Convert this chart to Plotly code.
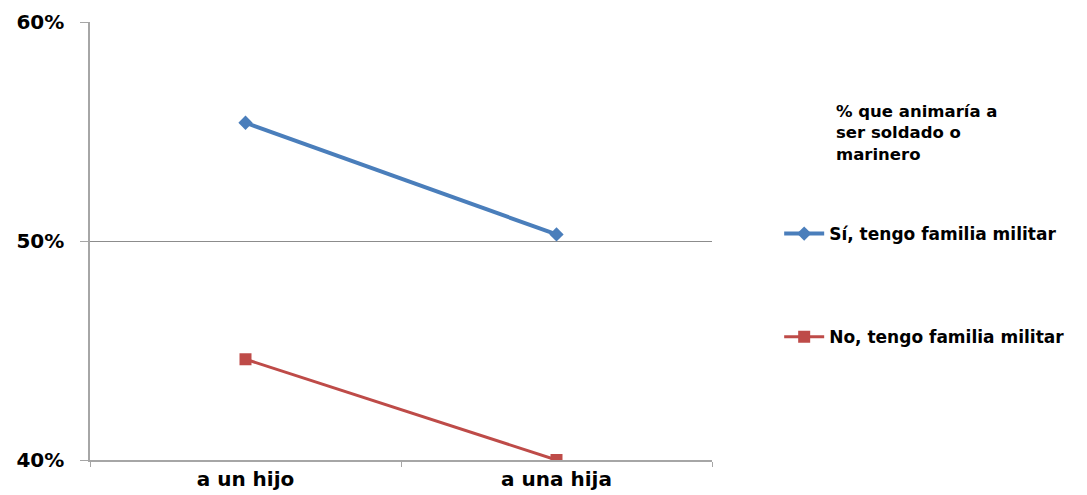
import plotly.graph_objects as go

categories = ["a un hijo", "a una hija"]
si_values = [0.554, 0.503]
no_values = [0.446, 0.400]
series_names = ["Sí, tengo familia militar", "No, tengo familia militar"]
legend_title = "% que animaría a<br>ser soldado o<br>marinero"
y_ticks = [0.40, 0.50, 0.60]
y_labels = ["40%", "50%", "60%"]

FONT = "DejaVu Sans"

fig = go.Figure()
fig.add_trace(go.Scatter(
    x=categories, y=si_values, mode="lines+markers", name=series_names[0],
    line=dict(color="#4a7ebb", width=4),
    marker=dict(symbol="diamond", size=11, color="#4a7ebb"),
    legendgroup="a",
))
fig.add_trace(go.Scatter(
    x=categories, y=no_values, mode="lines+markers", name=series_names[1],
    line=dict(color="#be4b48", width=3),
    marker=dict(symbol="square", size=12, color="#be4b48"),
    legendgroup="b",
))

# page body has an 8px margin: shrink the figure so it fits the window
fig.update_layout(
    width=1079, height=487,
    margin=dict(l=82, r=375, t=14, b=35),
    paper_bgcolor="white", plot_bgcolor="white",
    font=dict(family=FONT, color="black"),
    showlegend=True,
    legend=dict(
        x=1.108, xanchor="left", y=0.557, yanchor="top",
        font=dict(family=FONT, size=17, color="black", weight="bold"),
        tracegroupgap=78, itemwidth=40,
        bgcolor="rgba(0,0,0,0)",
    ),
    annotations=[dict(
        text="<b>" + legend_title + "</b>", xref="paper", yref="paper",
        x=1.196, y=0.822, xanchor="left", yanchor="top", align="left",
        showarrow=False, font=dict(family=FONT, size=16.5, color="black"),
    )],
)
fig.update_xaxes(
    type="category", range=[-0.5, 1.5], automargin=False,
    showline=True, linecolor="#a6a6a6", linewidth=1.5,
    ticks="outside", tickson="boundaries", ticklen=5, tickcolor="#a6a6a6",
    showgrid=False, zeroline=False,
    tickfont=dict(family=FONT, size=20, color="black", weight="bold"),
)
fig.update_yaxes(
    range=[0.40, 0.60], tickvals=y_ticks, ticktext=y_labels, automargin=False,
    showline=True, linecolor="#a6a6a6", linewidth=1.5,
    ticks="outside", ticklen=8, tickcolor="#a6a6a6",
    showgrid=True, gridcolor="#8c8c8c", gridwidth=1, zeroline=False,
    tickfont=dict(family=FONT, size=20, color="black", weight="bold"),
    ticklabelstandoff=12,
)

fig.write_html("out.html")
